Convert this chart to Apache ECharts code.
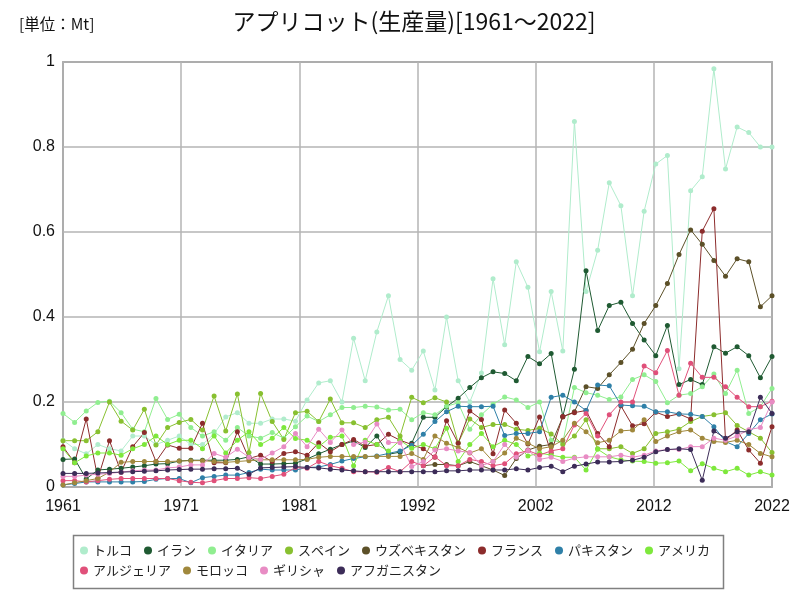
<!DOCTYPE html>
<html><head><meta charset="utf-8">
<script src="https://cdn.jsdelivr.net/npm/echarts@6/dist/echarts.min.js"></script>
<style>html,body{margin:0;padding:0;background:#fff}#c{width:800px;height:600px}</style>
</head><body><div id="c"></div>
<script>
const years = [];
for (let y = 1961; y <= 2022; y++) years.push(y);

const countries = ['トルコ','イラン','イタリア','スペイン','ウズベキスタン','フランス','パキスタン','アメリカ','アルジェリア','モロッコ','ギリシャ','アフガニスタン'];
const colors = ['#b0eccc','#1f5a32','#90ee90','#88c030','#5c5028','#8c2c2c','#2f80a8','#7ee83c','#e0507a','#a0883c','#e88cc4','#3c2c58'];

const turkey = [0.11,0.09,0.078,0.10,0.09,0.085,0.12,0.12,0.10,0.11,
0.12,0.10,0.10,0.125,0.165,0.175,0.15,0.15,0.16,0.16,
0.155,0.205,0.245,0.25,0.20,0.35,0.25,0.365,0.45,0.30,
0.275,0.32,0.228,0.40,0.25,0.20,0.268,0.49,0.335,0.53,
0.47,0.318,0.46,0.32,0.86,0.46,0.557,0.716,0.662,0.45,
0.649,0.76,0.78,0.278,0.697,0.73,0.984,0.748,0.847,0.834,0.80,0.80];
const iran = [0.065,0.066,0.019,0.04,0.042,0.044,0.047,0.05,0.054,0.055,
0.061,0.063,0.063,0.063,0.063,0.065,0.071,0.054,0.054,0.055,
0.056,0.066,0.078,0.089,0.10,0.108,0.093,0.12,0.077,0.082,
0.103,0.164,0.164,0.189,0.209,0.234,0.257,0.271,0.267,0.25,
0.307,0.29,0.314,0.166,0.277,0.509,0.368,0.427,0.435,0.385,
0.346,0.309,0.38,0.241,0.253,0.241,0.33,0.315,0.33,0.309,0.257,0.307];
const italy = [0.173,0.152,0.179,0.199,0.202,0.175,0.136,0.13,0.208,0.159,
0.171,0.14,0.12,0.13,0.11,0.14,0.12,0.115,0.128,0.115,
0.142,0.167,0.154,0.17,0.187,0.187,0.19,0.188,0.181,0.183,
0.158,0.175,0.17,0.19,0.198,0.136,0.17,0.195,0.212,0.205,
0.187,0.2,0.11,0.105,0.234,0.222,0.216,0.206,0.212,0.253,
0.264,0.248,0.198,0.216,0.22,0.236,0.266,0.22,0.275,0.173,0.189,0.232];
const spain = [0.109,0.109,0.109,0.13,0.2,0.155,0.134,0.183,0.099,0.14,
0.152,0.159,0.134,0.214,0.132,0.219,0.081,0.22,0.154,0.112,
0.175,0.178,0.154,0.207,0.151,0.151,0.14,0.158,0.164,0.12,
0.211,0.198,0.21,0.2,0.104,0.16,0.14,0.147,0.147,0.136,
0.133,0.138,0.125,0.1,0.12,0.158,0.09,0.09,0.095,0.079,
0.09,0.126,0.13,0.136,0.154,0.166,0.17,0.175,0.145,0.13,0.115,0.081];
const uzbekistan = [null,null,null,null,null,null,null,null,null,null,
null,null,null,null,null,null,null,null,null,null,
null,null,null,null,null,null,null,null,null,null,
null,0.05,0.053,0.053,0.05,0.06,0.05,0.04,0.027,0.067,
0.087,0.096,0.1,0.165,0.177,0.236,0.232,0.264,0.293,0.324,
0.385,0.427,0.479,0.547,0.605,0.571,0.533,0.496,0.537,0.53,0.424,0.45];
const france = [0.095,0.057,0.16,0.02,0.109,0.035,0.095,0.128,0.06,0.099,
0.091,0.091,0.15,0.057,0.057,0.13,0.067,0.075,0.06,0.079,
0.083,0.075,0.104,0.083,0.1,0.112,0.096,0.1,0.124,0.11,
0.1,0.09,0.07,0.156,0.103,0.179,0.159,0.078,0.181,0.15,
0.101,0.165,0.08,0.166,0.175,0.18,0.126,0.095,0.191,0.144,
0.149,0.176,0.166,0.172,0.16,0.602,0.655,0.11,0.134,0.087,0.056,0.142];
const pakistan = [0.005,0.008,0.012,0.012,0.012,0.012,0.012,0.013,0.018,0.02,
0.02,0.01,0.022,0.025,0.028,0.028,0.034,0.042,0.04,0.04,
0.04,0.046,0.047,0.053,0.061,0.067,0.071,0.073,0.079,0.085,
0.098,0.124,0.154,0.177,0.19,0.189,0.189,0.19,0.121,0.126,
0.126,0.13,0.211,0.216,0.2,0.18,0.24,0.238,0.193,0.191,
0.19,0.177,0.177,0.172,0.171,0.166,0.142,0.107,0.095,0.126,0.158,0.172];
const usa = [0.09,0.057,0.073,0.08,0.08,0.075,0.09,0.1,0.12,0.1,
0.11,0.11,0.09,0.12,0.08,0.11,0.13,0.1,0.115,0.14,
0.114,0.11,0.095,0.117,0.12,0.05,0.11,0.1,0.085,0.11,
0.091,0.1,0.09,0.138,0.06,0.1,0.126,0.095,0.11,0.1,
0.073,0.08,0.075,0.07,0.07,0.04,0.089,0.071,0.064,0.061,
0.06,0.056,0.057,0.061,0.038,0.055,0.044,0.036,0.044,0.028,0.036,0.028];
const algeria = [0.015,0.015,0.012,0.015,0.018,0.02,0.02,0.02,0.02,0.02,
0.015,0.011,0.01,0.015,0.02,0.02,0.022,0.02,0.025,0.03,
0.046,0.044,0.06,0.05,0.044,0.036,0.036,0.035,0.046,0.036,
0.06,0.05,0.071,0.05,0.05,0.065,0.06,0.05,0.055,0.078,
0.086,0.075,0.085,0.09,0.146,0.173,0.12,0.17,0.2,0.2,
0.285,0.269,0.321,0.216,0.291,0.258,0.258,0.236,0.211,0.189,0.189,0.202];
const morocco = [0.005,0.01,0.015,0.02,0.035,0.058,0.06,0.06,0.06,0.06,
0.061,0.062,0.062,0.06,0.058,0.06,0.062,0.064,0.064,0.064,
0.064,0.065,0.07,0.072,0.072,0.072,0.072,0.072,0.072,0.072,
0.079,0.065,0.12,0.103,0.093,0.08,0.09,0.06,0.08,0.115,
0.103,0.09,0.095,0.11,0.15,0.13,0.104,0.11,0.132,0.134,
0.158,0.107,0.12,0.13,0.134,0.115,0.107,0.105,0.11,0.1,0.079,0.071];
const greece = [0.025,0.025,0.028,0.03,0.032,0.035,0.038,0.04,0.04,0.045,
0.047,0.052,0.052,0.079,0.07,0.089,0.07,0.065,0.08,0.095,
0.126,0.095,0.136,0.105,0.134,0.1,0.106,0.148,0.105,0.104,
0.048,0.06,0.087,0.09,0.085,0.081,0.05,0.06,0.1,0.07,
0.086,0.065,0.07,0.06,0.068,0.071,0.071,0.071,0.075,0.07,
0.075,0.085,0.088,0.088,0.095,0.095,0.115,0.11,0.12,0.135,0.14,0.2];
const afghanistan = [0.032,0.032,0.032,0.033,0.034,0.035,0.036,0.037,0.038,0.04,
0.041,0.042,0.042,0.043,0.043,0.044,0.03,0.045,0.046,0.047,
0.048,0.046,0.045,0.042,0.04,0.038,0.036,0.036,0.036,0.036,
0.036,0.036,0.036,0.038,0.038,0.04,0.04,0.04,0.04,0.043,
0.04,0.046,0.049,0.036,0.049,0.054,0.059,0.059,0.06,0.063,
0.07,0.083,0.088,0.09,0.088,0.016,0.132,0.115,0.13,0.13,0.211,0.173];

const seriesValues = [turkey, iran, italy, spain, uzbekistan, france, pakistan, usa, algeria, morocco, greece, afghanistan];

const title = 'アプリコット(生産量)[1961～2022]';
const unitLabel = '[単位：Mt]';

const FONT = '"Noto Sans CJK JP", "Noto Sans", sans-serif';
const chart = echarts.init(document.getElementById('c'), null, {renderer: 'canvas'});

const series = countries.map((name, i) => ({
  name: name,
  type: 'line',
  data: years.map((y, j) => [y, seriesValues[i][j]]),
  symbol: 'circle',
  symbolSize: 5,
  showSymbol: true,
  connectNulls: false,
  lineStyle: {width: 1, color: colors[i]},
  itemStyle: {color: colors[i]},
  emphasis: {disabled: true},
  animation: false
}));

const legendStyle = {
  icon: 'circle', itemWidth: 8, itemHeight: 8, itemGap: 12,
  textStyle: {fontSize: 13, color: '#222', fontFamily: FONT},
  orient: 'horizontal', padding: 0, selectedMode: false
};

chart.setOption({
  animation: false,
  color: colors,
  title: [
    {text: title, left: 409, top: 5, textAlign: 'center',
     textStyle: {fontSize: 23, fontWeight: 'normal', color: '#111', fontFamily: FONT}},
    {text: unitLabel, left: 14, top: 11,
     textStyle: {fontSize: 15.5, fontWeight: 'normal', color: '#111', fontFamily: FONT}}
  ],
  grid: {left: 63, right: 28, top: 62, bottom: 113, show: true, borderColor: '#777', borderWidth: 1.5, backgroundColor: 'transparent'},
  xAxis: {
    type: 'value', min: 1961, max: 2022, interval: 61 / 6,
    axisLine: {show: false}, axisTick: {show: false},
    splitLine: {show: true, lineStyle: {color: '#b4b4b4', width: 1.5}},
    axisLabel: {formatter: v => String(Math.round(v)), fontSize: 16, color: '#111', margin: 12,
      fontFamily: '"Liberation Sans", sans-serif'}
  },
  yAxis: {
    type: 'value', min: 0, max: 1, interval: 0.2,
    axisLine: {show: false}, axisTick: {show: false},
    splitLine: {show: true, lineStyle: {color: '#b4b4b4', width: 1.5}},
    axisLabel: {fontSize: 16, color: '#111', margin: 8, fontFamily: '"Liberation Sans", sans-serif'}
  },
  legend: [
    Object.assign({data: countries.slice(0, 8), left: 80, top: 544}, legendStyle),
    Object.assign({data: countries.slice(8), left: 80, top: 564}, legendStyle)
  ],
  graphic: [{type: 'rect', shape: {x: 73.5, y: 535.5, width: 650, height: 53},
    style: {fill: 'none', stroke: '#808080', lineWidth: 1.5}, silent: true}],
  series: series
});
</script></body></html>
